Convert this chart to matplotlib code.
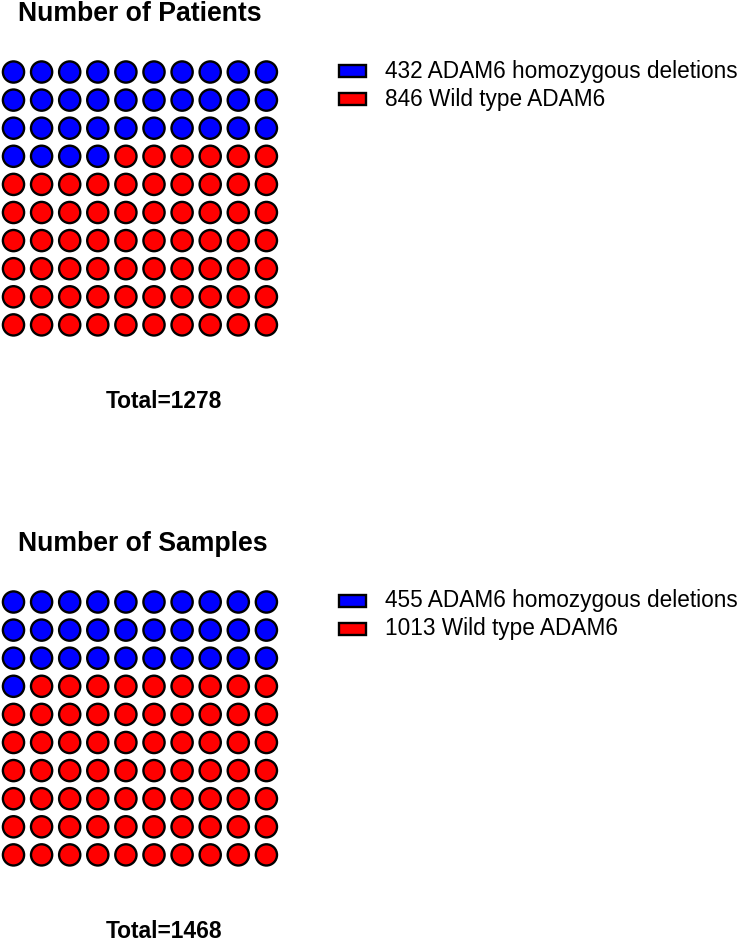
import matplotlib
matplotlib.use("Agg")
import matplotlib.pyplot as plt
from matplotlib.patches import Circle, Rectangle

plt.rcParams['font.family'] = ['Liberation Sans', 'DejaVu Sans']

titles = ["Number of Patients", "Number of Samples"]
deletions = [432, 455]
wild_type = [846, 1013]
legend_labels = ["ADAM6 homozygous deletions", "Wild type ADAM6"]
colors = ["#0000FF", "#FF0000"]

W, H = 742, 941
fig = plt.figure(figsize=(W / 100, H / 100), dpi=100)
ax = fig.add_axes([0, 0, 1, 1])
ax.set_xlim(0, W)
ax.set_ylim(H, 0)
ax.axis('off')

panel_top = [0, 530]
step = 28.1
radius = 10.6
for p in range(2):
    y0 = panel_top[p]
    total = deletions[p] + wild_type[p]
    n_blue = int(round(100 * deletions[p] / total))
    ax.text(18, y0 + 14, titles[p], fontsize=19.2, fontweight='bold',
            ha='left', va='center')
    first_row = y0 + 72
    for k in range(100):
        r, c = divmod(k, 10)
        col = colors[0] if k < n_blue else colors[1]
        ax.add_patch(Circle((13.5 + c * step, first_row + r * step), radius,
                            facecolor=col, edgecolor='black', linewidth=1.7))
    ax.text(164, y0 + 401, f"Total={total}", fontsize=16.4, fontweight='bold',
            ha='center', va='center')
    vals = [deletions[p], wild_type[p]]
    for i in range(2):
        yc = first_row - 1 + i * 28
        ax.add_patch(Rectangle((339, yc - 5.8), 27, 11.6, facecolor=colors[i],
                               edgecolor='black', linewidth=1.7))
        ax.text(385, yc, f"{vals[i]} {legend_labels[i]}", fontsize=16.3,
                ha='left', va='center')

fig.savefig("out.png", dpi=100)
